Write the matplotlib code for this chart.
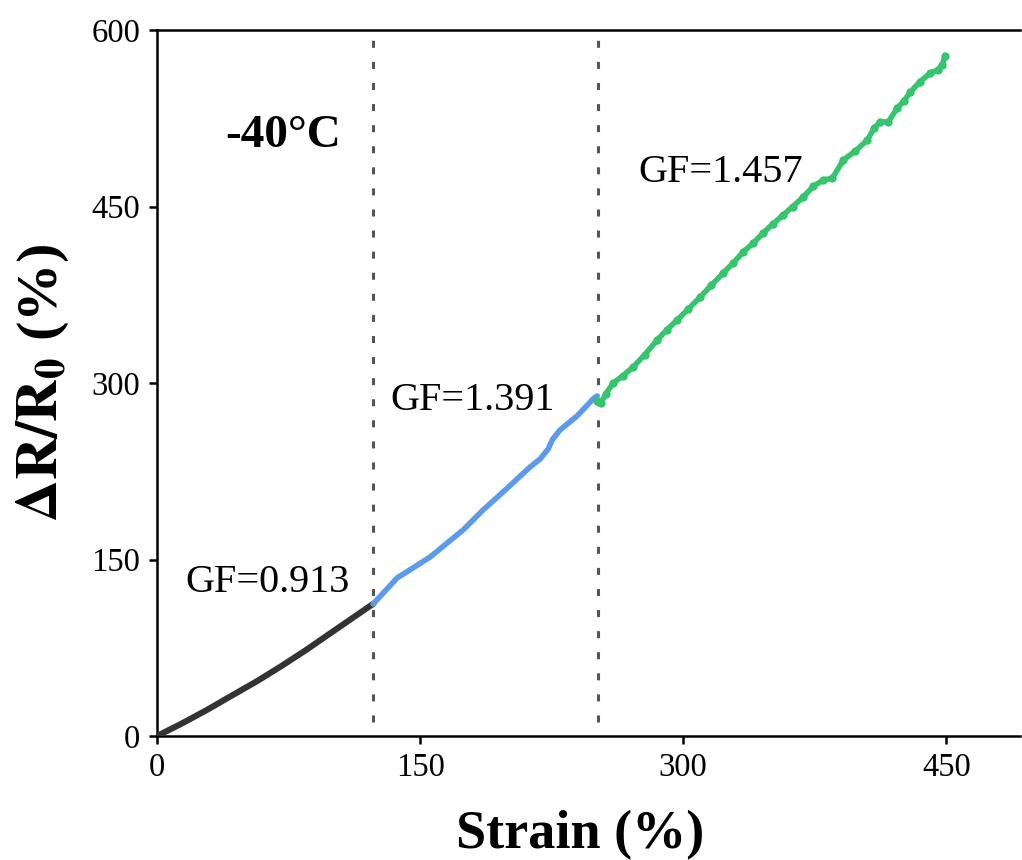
import matplotlib
matplotlib.use("Agg")
import matplotlib.pyplot as plt

# ---- data ----
strain_black = [0, 14.0, 28.3, 42.0, 56.9, 71.0, 85.4, 99.0, 111.0, 123.4]
resp_black   = [0, 10.5, 22.0, 33.8, 46.5, 59.5, 73.5, 87.5, 99.8, 112.5]

strain_blue = [123.2, 136.9, 155.7, 174.5, 185.9, 197.3, 212.7, 218.4, 223.0, 225.3, 229.8, 239.5, 249.2, 251.0]
resp_blue   = [112.2, 134.3, 152.1, 175.1, 192.1, 207.4, 228.6, 235.4, 243.9, 251.6, 260.1, 272.0, 287.3, 289.0]

strain_green = [251.0, 253.0, 256.0, 260.1, 265.5, 271.5, 278.0, 285.2, 290.5, 296.6, 303.0,
                309.7, 316.0, 322.8, 328.5, 334.2, 340.0, 345.6, 351.0, 357.0, 362.5, 368.5,
                374.0, 379.8, 385.0, 391.3, 398.0, 405.0, 409.0, 412.4, 417.0, 422.0, 426.0,
                429.5, 435.0, 440.9, 445.0, 447.5, 449.4]
resp_green   = [285.0, 283.0, 291.0, 300.0, 306.0, 313.6, 324.0, 336.6, 345.0, 353.6, 363.0,
                373.1, 383.0, 393.5, 402.0, 411.3, 419.0, 427.5, 435.0, 442.8, 450.0, 458.1,
                467.0, 472.5, 474.0, 489.5, 497.0, 506.5, 517.0, 521.8, 522.0, 533.7, 540.0,
                547.3, 556.0, 563.5, 566.0, 570.0, 577.9]

boundaries = [123.2, 251.5]
gf_labels = ["GF=0.913", "GF=1.391", "GF=1.457"]
gf_pos = [(16.0, 122.4), (132.9, 277.0), (274.3, 470.9)]
temp_label = "-40°C"
temp_pos = (38.8, 500.6)

xticks = [0, 150, 300, 450]
yticks = [0, 150, 300, 450, 600]

# ---- style ----
plt.rcParams['font.family'] = ['Liberation Serif', 'DejaVu Serif']
plt.rcParams['mathtext.fontset'] = 'stix'

fig = plt.figure(figsize=(10.22, 8.6), dpi=100)
ax = fig.add_axes([157/1022, 124/860, (1020-157)/1022, (736-30)/860])

for xb in boundaries:
    ax.axvline(xb, ymin=0.02, ymax=1.0, color='#555555', lw=2.2,
               linestyle=(0, (2.3, 4.6)), zorder=1)

ax.plot(strain_black, resp_black, color='#333333', lw=4.4, solid_capstyle='round',
        solid_joinstyle='round', zorder=3)
ax.plot(strain_blue, resp_blue, color='#5B9BEA', lw=4.0, solid_capstyle='round',
        solid_joinstyle='round', zorder=3)
ax.plot(strain_green, resp_green, color='#36C46E', lw=4.0, marker='o', ms=6.0,
        markeredgewidth=0, solid_joinstyle='round', zorder=4)

for lab, (x, y) in zip(gf_labels, gf_pos):
    ax.text(x, y, lab, fontsize=29, ha='left', va='baseline')
ax.text(temp_pos[0], temp_pos[1], temp_label, fontsize=34, fontweight='bold',
        ha='left', va='baseline')

ax.set_xlim(0, 492)
ax.set_ylim(0, 600)
ax.set_xticks(xticks)
ax.set_yticks(yticks)
ax.tick_params(axis='both', direction='out', length=6, width=1.8, labelsize=23.5, pad=6)

for s in ['left', 'bottom', 'top']:
    ax.spines[s].set_linewidth(1.8)
ax.spines['right'].set_visible(False)

ax.set_xlabel('Strain (%)', fontsize=39, fontweight='bold')
ax.set_ylabel(r'$\mathbf{\Delta R/R_0}$ (%)', fontsize=42, fontweight='bold')
ax.xaxis.set_label_coords(0.49, -0.105)
ax.yaxis.set_label_coords(-0.1, 0.5)

fig.savefig('out.png', dpi=100)
